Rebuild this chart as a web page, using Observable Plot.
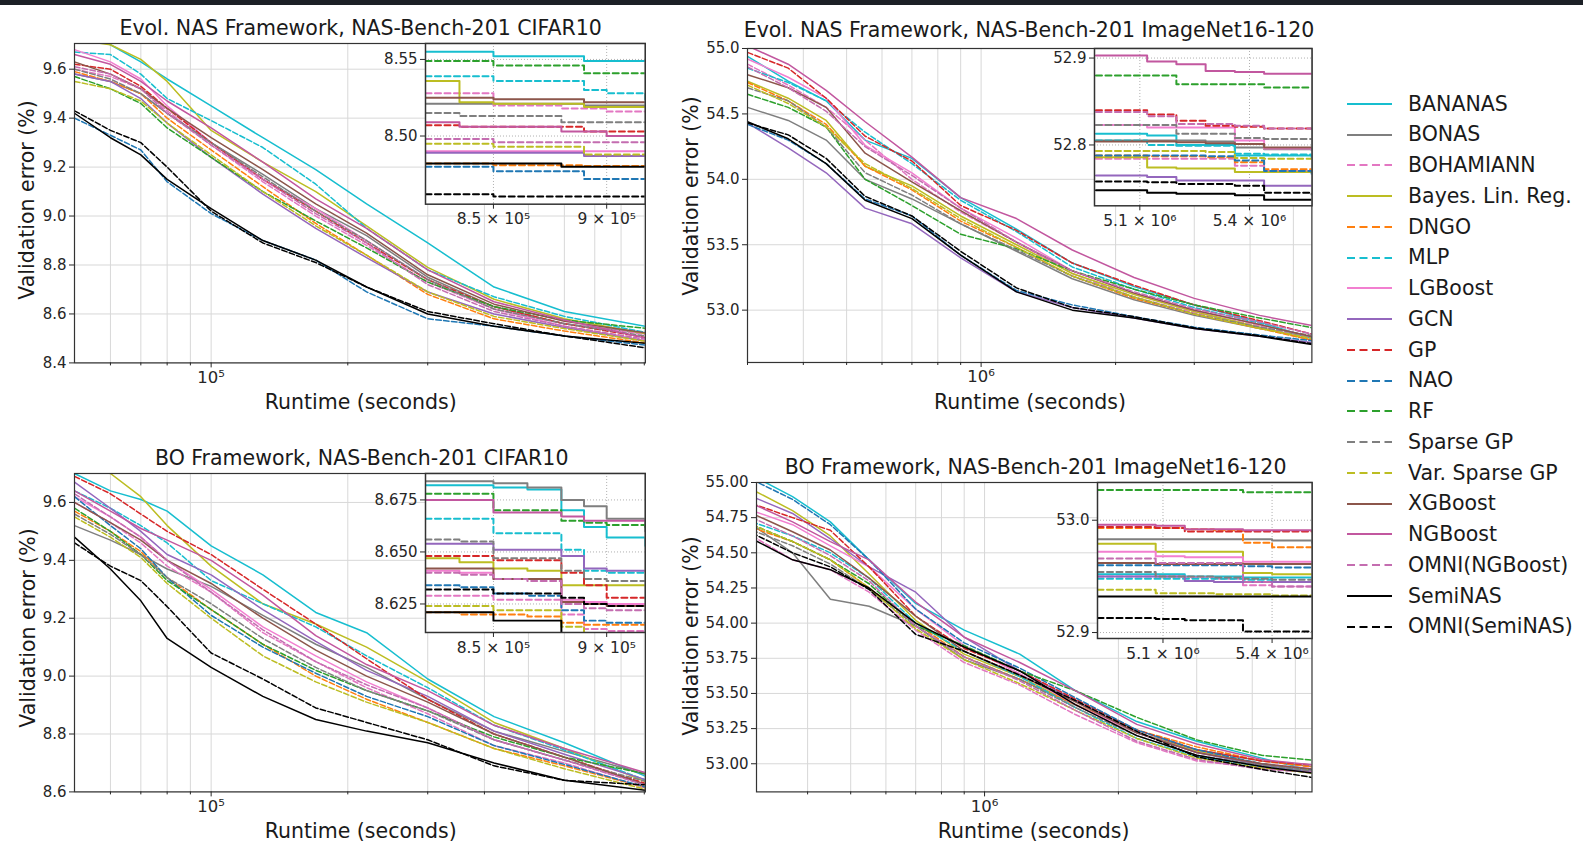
<!DOCTYPE html>
<html><head><meta charset="utf-8">
<script src="https://cdn.jsdelivr.net/npm/d3@7"></script>
<script src="https://cdn.jsdelivr.net/npm/@observablehq/plot@0.6"></script>
<style>
body{margin:0;background:#fff;}
#root{position:relative;width:1583px;height:843px;background:#fff;overflow:hidden;font-family:"DejaVu Sans",sans-serif;color:#1a1a1a;}
#topbar{position:absolute;left:0;top:0;width:1583px;height:5px;background:#1c2026;}
.t{position:absolute;font-size:20.5px;line-height:1;white-space:nowrap;transform:translate(-50%,-50%);}
.yl{position:absolute;font-size:20.5px;line-height:1;white-space:nowrap;transform:translate(-50%,-50%) rotate(-90deg);}
.lg{position:absolute;font-size:20.5px;line-height:1;white-space:nowrap;}
svg{overflow:visible;}
</style></head><body><div id="root"><div id="topbar"></div></div>
<script>
// ---------------- data ----------------
const methods = ["BANANAS","BONAS","BOHAMIANN","Bayes. Lin. Reg.","DNGO","MLP","LGBoost","GCN","GP","NAO","RF","Sparse GP","Var. Sparse GP","XGBoost","NGBoost","OMNI(NGBoost)","SemiNAS","OMNI(SemiNAS)"];
const colors = ["#17becf","#7f7f7f","#e377c2","#bcbd22","#ff7f0e","#17becf","#f27fd0","#9467bd","#d62728","#1f77b4","#2ca02c","#7f7f7f","#bcbd22","#8c564b","#c2579f","#c46db0","#000000","#000000"];
const dashed = [0,0,1,0,1,1,0,0,1,1,1,1,1,0,0,1,0,1];

const xCifar = [5e4, 6e4, 7e4, 8e4, 1e5, 1.3e5, 1.7e5, 2.2e5, 3e5, 4.2e5, 6e5, 9.1e5];
const xImagenet = [3e5, 3.7e5, 4.5e5, 5.5e5, 7e5, 9e5, 1.2e6, 1.6e6, 2.2e6, 3e6, 4.2e6, 5.5e6];
const xInsetCifar = [8.2e5, 8.35e5, 8.5e5, 8.65e5, 8.8e5, 8.9e5, 9.0e5, 9.17e5];
const xInsetImgEvol = [4.98e6, 5.05e6, 5.12e6, 5.2e6, 5.28e6, 5.36e6, 5.44e6, 5.57e6];
const xInsetImgBO = [4.92e6, 5.0e6, 5.08e6, 5.16e6, 5.24e6, 5.32e6, 5.4e6, 5.51e6];

const evolCifarErr = [
[9.76,9.70,9.63,9.56,9.45,9.32,9.19,9.05,8.89,8.71,8.61,8.549],
[9.58,9.55,9.50,9.42,9.30,9.17,9.03,8.92,8.75,8.63,8.56,8.520],
[9.60,9.57,9.52,9.43,9.29,9.14,9.00,8.88,8.73,8.62,8.56,8.516],
[9.72,9.70,9.64,9.55,9.35,9.22,9.10,8.96,8.79,8.66,8.58,8.519],
[9.59,9.55,9.50,9.40,9.27,9.12,8.97,8.84,8.68,8.58,8.53,8.481],
[9.67,9.66,9.58,9.48,9.39,9.28,9.13,8.95,8.78,8.67,8.59,8.524],
[9.68,9.63,9.56,9.45,9.30,9.15,9.03,8.90,8.74,8.62,8.55,8.490],
[9.58,9.55,9.48,9.38,9.24,9.09,8.95,8.83,8.69,8.60,8.545,8.488],
[9.62,9.60,9.53,9.44,9.30,9.15,9.02,8.89,8.74,8.63,8.56,8.503],
[9.40,9.33,9.27,9.14,9.01,8.90,8.82,8.69,8.58,8.55,8.51,8.472],
[9.57,9.52,9.46,9.36,9.24,9.10,8.98,8.87,8.73,8.63,8.575,8.541],
[9.60,9.56,9.50,9.42,9.30,9.16,9.02,8.90,8.74,8.62,8.56,8.509],
[9.55,9.52,9.47,9.38,9.25,9.10,8.96,8.84,8.69,8.59,8.54,8.488],
[9.63,9.58,9.52,9.44,9.32,9.19,9.05,8.93,8.76,8.64,8.57,8.522],
[9.66,9.62,9.55,9.47,9.36,9.22,9.07,8.95,8.78,8.65,8.575,8.500],
[9.61,9.58,9.52,9.42,9.29,9.15,9.01,8.89,8.72,8.61,8.55,8.496],
[9.42,9.32,9.25,9.15,9.03,8.90,8.82,8.71,8.60,8.55,8.51,8.480],
[9.43,9.35,9.30,9.20,9.02,8.89,8.81,8.71,8.61,8.56,8.51,8.461]];

const evolCifarInset = [
[8.555,8.555,8.552,8.552,8.552,8.549,8.549,8.549],
[8.521,8.521,8.521,8.521,8.521,8.520,8.520,8.520],
[8.528,8.528,8.520,8.520,8.518,8.518,8.516,8.516],
[8.536,8.522,8.521,8.521,8.521,8.519,8.519,8.519],
[8.482,8.482,8.481,8.481,8.481,8.4805,8.4805,8.4805],
[8.539,8.539,8.536,8.536,8.536,8.530,8.528,8.524],
[8.490,8.490,8.490,8.490,8.490,8.490,8.490,8.490],
[8.489,8.489,8.489,8.489,8.489,8.487,8.487,8.487],
[8.507,8.506,8.506,8.506,8.506,8.503,8.503,8.503],
[8.480,8.480,8.477,8.477,8.477,8.472,8.472,8.472],
[8.549,8.549,8.546,8.546,8.546,8.541,8.541,8.541],
[8.515,8.513,8.513,8.513,8.509,8.509,8.509,8.509],
[8.495,8.495,8.493,8.493,8.493,8.488,8.488,8.488],
[8.525,8.525,8.524,8.524,8.524,8.522,8.522,8.522],
[8.509,8.506,8.506,8.506,8.503,8.503,8.500,8.500],
[8.498,8.498,8.496,8.496,8.496,8.496,8.496,8.496],
[8.482,8.482,8.482,8.482,8.480,8.480,8.480,8.480],
[8.462,8.462,8.4605,8.4605,8.4605,8.4605,8.4605,8.4605]];

const evolImgErr = [
[54.94,54.75,54.60,54.30,54.16,53.86,53.62,53.36,53.18,53.04,52.91,52.786],
[54.55,54.45,54.30,54.00,53.85,53.66,53.45,53.24,53.08,52.96,52.86,52.794],
[54.88,54.72,54.55,54.30,54.00,53.75,53.52,53.28,53.10,52.98,52.88,52.770],
[54.75,54.62,54.45,54.10,53.95,53.72,53.50,53.28,53.12,52.99,52.87,52.769],
[54.74,54.60,54.42,54.10,53.92,53.68,53.48,53.26,53.09,52.97,52.86,52.771],
[54.85,54.74,54.60,54.36,54.12,53.84,53.60,53.33,53.16,53.02,52.90,52.788],
[54.92,54.78,54.62,54.26,54.05,53.78,53.55,53.30,53.13,53.00,52.89,52.795],
[54.43,54.24,54.05,53.78,53.66,53.40,53.14,53.02,52.94,52.86,52.80,52.753],
[54.97,54.85,54.62,54.33,54.14,53.80,53.61,53.36,53.19,53.04,52.92,52.817],
[54.42,54.30,54.12,53.85,53.72,53.42,53.15,53.04,52.95,52.87,52.81,52.767],
[54.65,54.55,54.40,54.00,53.80,53.58,53.47,53.30,53.16,53.04,52.94,52.866],
[54.70,54.60,54.40,54.05,53.88,53.66,53.46,53.26,53.10,52.97,52.87,52.807],
[54.72,54.58,54.40,54.12,53.93,53.70,53.48,53.26,53.10,52.97,52.86,52.784],
[54.80,54.70,54.55,54.20,53.98,53.76,53.52,53.30,53.13,53.00,52.89,52.797],
[55.02,54.88,54.68,54.44,54.17,53.86,53.70,53.46,53.25,53.09,52.96,52.882],
[54.86,54.70,54.52,54.25,54.03,53.78,53.52,53.30,53.14,53.01,52.91,52.818],
[54.44,54.31,54.12,53.84,53.70,53.42,53.14,53.00,52.94,52.86,52.80,52.737],
[54.43,54.34,54.16,53.87,53.72,53.45,53.17,53.02,52.95,52.865,52.805,52.743]];

const evolImgInset = [
[52.813,52.813,52.811,52.800,52.800,52.788,52.788,52.786],
[52.805,52.805,52.805,52.805,52.804,52.797,52.795,52.794],
[52.784,52.784,52.784,52.784,52.784,52.776,52.770,52.770],
[52.786,52.786,52.774,52.773,52.773,52.769,52.769,52.769],
[52.788,52.788,52.787,52.787,52.786,52.780,52.772,52.771],
[52.805,52.805,52.800,52.799,52.799,52.790,52.789,52.788],
[52.823,52.823,52.820,52.820,52.820,52.805,52.796,52.795],
[52.765,52.765,52.763,52.759,52.759,52.759,52.753,52.753],
[52.840,52.840,52.835,52.828,52.822,52.821,52.819,52.817],
[52.788,52.788,52.788,52.788,52.787,52.782,52.770,52.767],
[52.880,52.880,52.880,52.870,52.870,52.870,52.866,52.866],
[52.823,52.823,52.823,52.813,52.813,52.808,52.807,52.807],
[52.793,52.793,52.793,52.793,52.792,52.785,52.784,52.784],
[52.804,52.804,52.804,52.803,52.802,52.801,52.797,52.797],
[52.903,52.903,52.896,52.893,52.885,52.884,52.882,52.882],
[52.838,52.838,52.833,52.824,52.824,52.822,52.819,52.818],
[52.748,52.748,52.745,52.744,52.744,52.742,52.737,52.737],
[52.758,52.758,52.757,52.755,52.755,52.753,52.745,52.743]];

const boCifarErr = [
[9.70,9.64,9.61,9.57,9.45,9.35,9.22,9.15,8.99,8.86,8.77,8.653],
[9.52,9.47,9.42,9.37,9.31,9.21,9.11,9.03,8.92,8.81,8.74,8.660],
[9.60,9.53,9.46,9.38,9.29,9.15,9.05,8.96,8.87,8.76,8.70,8.612],
[9.72,9.70,9.62,9.52,9.38,9.25,9.18,9.10,8.98,8.84,8.75,8.634],
[9.57,9.50,9.43,9.34,9.23,9.11,9.00,8.92,8.84,8.75,8.69,8.615],
[9.64,9.58,9.52,9.46,9.33,9.25,9.17,9.07,8.96,8.83,8.745,8.640],
[9.62,9.55,9.48,9.40,9.30,9.17,9.07,8.98,8.89,8.78,8.71,8.625],
[9.67,9.58,9.50,9.42,9.35,9.23,9.12,9.02,8.93,8.81,8.73,8.641],
[9.69,9.63,9.56,9.50,9.42,9.30,9.18,9.06,8.92,8.80,8.72,8.628],
[9.62,9.52,9.44,9.34,9.21,9.10,9.01,8.93,8.86,8.76,8.695,8.616],
[9.58,9.50,9.42,9.33,9.23,9.11,9.02,8.95,8.88,8.79,8.72,8.662],
[9.56,9.49,9.42,9.34,9.25,9.13,9.03,8.95,8.88,8.78,8.71,8.636],
[9.55,9.48,9.41,9.32,9.20,9.07,8.98,8.91,8.84,8.75,8.68,8.608],
[9.60,9.53,9.47,9.40,9.32,9.20,9.09,9.00,8.91,8.80,8.72,8.624],
[9.64,9.57,9.51,9.47,9.40,9.28,9.14,9.04,8.95,8.83,8.75,8.665],
[9.63,9.55,9.48,9.40,9.29,9.16,9.05,8.97,8.89,8.78,8.71,8.622],
[9.48,9.37,9.26,9.13,9.03,8.93,8.85,8.81,8.77,8.70,8.64,8.605],
[9.46,9.38,9.33,9.24,9.08,8.99,8.89,8.84,8.78,8.69,8.64,8.624]];

const boCifarInset = [
[8.682,8.682,8.681,8.680,8.670,8.662,8.657,8.653],
[8.684,8.684,8.683,8.681,8.675,8.672,8.666,8.660],
[8.629,8.629,8.627,8.627,8.620,8.613,8.612,8.612],
[8.647,8.645,8.642,8.641,8.634,8.634,8.634,8.634],
[8.621,8.620,8.620,8.619,8.616,8.615,8.615,8.615],
[8.666,8.666,8.659,8.659,8.651,8.641,8.640,8.640],
[8.641,8.640,8.637,8.637,8.627,8.626,8.625,8.625],
[8.654,8.654,8.651,8.651,8.648,8.642,8.641,8.641],
[8.648,8.648,8.646,8.646,8.640,8.634,8.628,8.628],
[8.634,8.633,8.630,8.629,8.622,8.617,8.616,8.616],
[8.678,8.678,8.670,8.670,8.665,8.664,8.663,8.662],
[8.656,8.655,8.647,8.647,8.641,8.637,8.636,8.636],
[8.624,8.624,8.622,8.622,8.614,8.609,8.608,8.608],
[8.642,8.642,8.637,8.637,8.626,8.625,8.624,8.624],
[8.675,8.675,8.669,8.669,8.667,8.665,8.665,8.665],
[8.640,8.639,8.637,8.636,8.625,8.623,8.622,8.622],
[8.621,8.621,8.617,8.617,8.611,8.606,8.605,8.605],
[8.632,8.632,8.630,8.630,8.628,8.625,8.624,8.624]];

const boImgErr = [
[55.05,54.90,54.72,54.45,54.14,53.95,53.78,53.52,53.30,53.16,53.04,52.949],
[54.70,54.50,54.17,54.12,53.98,53.74,53.60,53.42,53.22,53.10,53.02,52.980],
[54.62,54.45,54.38,54.22,53.95,53.72,53.56,53.35,53.15,53.02,52.97,52.941],
[54.95,54.80,54.62,54.35,54.02,53.78,53.62,53.42,53.22,53.09,53.00,52.952],
[54.68,54.58,54.45,54.25,54.00,53.76,53.60,53.42,53.24,53.12,53.02,52.976],
[54.72,54.62,54.50,54.32,54.00,53.80,53.62,53.40,53.18,53.05,52.98,52.945],
[54.80,54.70,54.55,54.40,54.10,53.84,53.64,53.42,53.22,53.08,53.00,52.963],
[54.90,54.78,54.60,54.40,54.22,53.90,53.66,53.45,53.22,53.08,52.99,52.945],
[54.85,54.75,54.66,54.40,54.05,53.82,53.66,53.46,53.24,53.10,53.02,52.990],
[55.02,54.88,54.70,54.45,54.10,53.86,53.68,53.47,53.24,53.10,53.00,52.958],
[54.70,54.58,54.45,54.28,53.98,53.84,53.66,53.52,53.33,53.17,53.06,53.025],
[54.66,54.55,54.42,54.24,53.98,53.76,53.60,53.40,53.20,53.06,52.99,52.947],
[54.70,54.58,54.45,54.25,53.96,53.74,53.57,53.38,53.18,53.04,52.97,52.933],
[54.78,54.65,54.52,54.32,54.05,53.80,53.63,53.44,53.22,53.08,53.00,52.961],
[54.85,54.72,54.58,54.45,54.15,53.90,53.72,53.52,53.28,53.14,53.03,52.991],
[54.75,54.62,54.48,54.30,53.98,53.76,53.59,53.38,53.16,53.03,52.96,52.941],
[54.60,54.45,54.38,54.25,54.00,53.83,53.66,53.42,53.20,53.06,52.98,52.932],
[54.64,54.50,54.40,54.24,53.92,53.80,53.63,53.45,53.23,53.05,52.96,52.901]];

const boImgInset = [
[52.952,52.952,52.952,52.950,52.950,52.949,52.949,52.949],
[52.983,52.983,52.983,52.983,52.983,52.983,52.982,52.980],
[52.950,52.950,52.950,52.949,52.948,52.942,52.941,52.941],
[52.979,52.979,52.972,52.972,52.972,52.953,52.952,52.952],
[52.993,52.993,52.993,52.992,52.991,52.980,52.976,52.976],
[52.948,52.948,52.948,52.948,52.948,52.947,52.945,52.945],
[52.972,52.972,52.968,52.967,52.967,52.963,52.963,52.963],
[52.950,52.950,52.950,52.946,52.945,52.945,52.945,52.945],
[52.994,52.994,52.993,52.990,52.990,52.990,52.990,52.990],
[52.960,52.960,52.960,52.960,52.960,52.959,52.958,52.958],
[53.027,53.027,53.027,53.027,53.027,53.025,53.025,53.025],
[52.954,52.954,52.950,52.950,52.949,52.948,52.947,52.947],
[52.938,52.938,52.935,52.935,52.934,52.934,52.933,52.933],
[52.962,52.962,52.961,52.961,52.961,52.961,52.961,52.961],
[52.996,52.996,52.995,52.992,52.992,52.991,52.991,52.991],
[52.966,52.966,52.962,52.962,52.962,52.945,52.941,52.941],
[52.932,52.932,52.932,52.932,52.932,52.932,52.932,52.932],
[52.913,52.913,52.912,52.911,52.911,52.901,52.901,52.901]];

// tick values and labels
const yTicksEvolCifar = [8.4, 8.6, 8.8, 9.0, 9.2, 9.4, 9.6];
const yTicksBoCifar = [8.6, 8.8, 9.0, 9.2, 9.4, 9.6];
const yTicksEvolImg = [53.0, 53.5, 54.0, 54.5, 55.0];
const yTicksBoImg = [53.00, 53.25, 53.50, 53.75, 54.00, 54.25, 54.50, 54.75, 55.00];
const xMajorCifar = [1e5], xMajorCifarLabel = ["10⁵"];
const xMajorImg = [1e6], xMajorImgLabel = ["10⁶"];
const xMinorCifar = [6e4,7e4,8e4,9e4,2e5,3e5,4e5,5e5,6e5,7e5,8e5,9e5];
const xMinorImg = [3e5,4e5,5e5,6e5,7e5,8e5,9e5,2e6,3e6,4e6,5e6];
const insetYTicksEvolCifar = [8.50, 8.55];
const insetYTicksBoCifar = [8.625, 8.650, 8.675];
const insetYTicksEvolImg = [52.8, 52.9];
const insetYTicksBoImg = [52.9, 53.0];
const insetXTicksCifar = [8.5e5, 9e5], insetXLabelsCifar = ["8.5 × 10⁵", "9 × 10⁵"];
const insetXTicksImg = [5.1e6, 5.4e6], insetXLabelsImg = ["5.1 × 10⁶", "5.4 × 10⁶"];

// ---------------- layout ----------------
const root = document.getElementById("root");
const panels = [
  {title:"Evol. NAS Framework, NAS-Bench-201 CIFAR10", frame:[73.8,43.3,644.7,362.7], xDomain:[5e4,9.05e5], yDomain:[8.4,9.705],
   xs:xCifar, data:evolCifarErr, yTicks:yTicksEvolCifar, yDec:1, xMajor:xMajorCifar, xMajorLabel:xMajorCifarLabel, xMinor:xMinorCifar,
   titlePos:[360.7,28.3], xlabPos:[360.7,402], ylabPos:[27,200],
   inset:{frame:[425,43.3,644.7,204], xDomain:[8.2e5,9.17e5], yDomain:[8.4555,8.5604], xs:xInsetCifar, data:evolCifarInset,
          yTicks:insetYTicksEvolCifar, yDec:2, xTicks:insetXTicksCifar, xLabels:insetXLabelsCifar}},
  {title:"Evol. NAS Framework, NAS-Bench-201 ImageNet16-120", frame:[747.1,47.7,1311.5,361.7], xDomain:[3e5,5.5e6], yDomain:[52.6,55.0],
   xs:xImagenet, data:evolImgErr, yTicks:yTicksEvolImg, yDec:1, xMajor:xMajorImg, xMajorLabel:xMajorImgLabel, xMinor:xMinorImg,
   titlePos:[1029,30], xlabPos:[1030,402], ylabPos:[691,196],
   inset:{frame:[1094,47.7,1311.5,205], xDomain:[4.976e6,5.571e6], yDomain:[52.730,52.911], xs:xInsetImgEvol, data:evolImgInset,
          yTicks:insetYTicksEvolImg, yDec:1, xTicks:insetXTicksImg, xLabels:insetXLabelsImg}},
  {title:"BO Framework, NAS-Bench-201 CIFAR10", frame:[73.8,473.3,644.7,791.7], xDomain:[5e4,9.05e5], yDomain:[8.6,9.7],
   xs:xCifar, data:boCifarErr, yTicks:yTicksBoCifar, yDec:1, xMajor:xMajorCifar, xMajorLabel:xMajorCifarLabel, xMinor:xMinorCifar,
   titlePos:[361.7,458.3], xlabPos:[360.7,831], ylabPos:[28,628],
   inset:{frame:[425,473.3,644.7,632.3], xDomain:[8.2e5,9.17e5], yDomain:[8.6113,8.6877], xs:xInsetCifar, data:boCifarInset,
          yTicks:insetYTicksBoCifar, yDec:3, xTicks:insetXTicksCifar, xLabels:insetXLabelsCifar}},
  {title:"BO Framework, NAS-Bench-201 ImageNet16-120", frame:[756,482.3,1311.5,791.7], xDomain:[3.07e5,5.45e6], yDomain:[52.8,55.0],
   xs:xImagenet, data:boImgErr, yTicks:yTicksBoImg, yDec:2, xMajor:xMajorImg, xMajorLabel:xMajorImgLabel, xMinor:xMinorImg.filter(d=>d>3.07e5),
   titlePos:[1035.6,467.3], xlabPos:[1033.6,831], ylabPos:[691,636],
   inset:{frame:[1096.9,482.3,1311.5,638.3], xDomain:[4.92e6,5.51e6], yDomain:[52.8947,53.0336], xs:xInsetImgBO, data:boImgInset,
          yTicks:insetYTicksBoImg, yDec:1, xTicks:insetXTicksImg, xLabels:insetXLabelsImg}}
];

function place(svg, left, top) {
  svg.style.position = "absolute";
  svg.style.left = left + "px";
  svg.style.top = top + "px";
  svg.style.maxWidth = "none";
  root.appendChild(svg);
}
function seriesRows(xs, vals) { return xs.map((x, j) => ({x, y: vals[j]})); }
function labelLookup(ticks, labels) {
  return d => {
    const k = ticks.findIndex(t => Math.abs(t - d) < 1e-6 * Math.abs(t));
    return k < 0 ? "" : labels[k];
  };
}

function mainPlot(p) {
  const [l, t, r, b] = p.frame;
  const mL = 60, mR = 12, mT = 10, mB = 45;
  const marks = [
    Plot.gridY(p.yTicks, {stroke: "#d8d8d8", strokeOpacity: 1, strokeWidth: 1}),
    Plot.gridX([...p.xMajor, ...p.xMinor], {stroke: "#d8d8d8", strokeOpacity: 1, strokeWidth: 1}),
    ...methods.map((m, i) => Plot.line(seriesRows(p.xs, p.data[i]), {
      x: "x", y: "y", stroke: colors[i], strokeWidth: 1.5,
      strokeDasharray: dashed[i] ? "5.5,2.4" : null, clip: true})),
    Plot.frame({stroke: "#333", strokeWidth: 1.2}),
    Plot.axisY(p.yTicks, {anchor: "left", tickFormat: d => d.toFixed(p.yDec), tickSize: 5, tickPadding: 3, fontSize: 15, label: null}),
    Plot.axisX(p.xMinor, {anchor: "bottom", tickFormat: () => "", tickSize: 3, label: null}),
    Plot.axisX(p.xMajor, {anchor: "bottom", tickFormat: labelLookup(p.xMajor, p.xMajorLabel), tickSize: 5, tickPadding: 3, fontSize: 16.5, label: null})
  ];
  const svg = Plot.plot({
    width: (r - l) + mL + mR, height: (b - t) + mT + mB,
    marginLeft: mL, marginRight: mR, marginTop: mT, marginBottom: mB,
    x: {type: "log", domain: p.xDomain, label: null},
    y: {domain: p.yDomain, label: null},
    style: {background: "transparent", fontFamily: "DejaVu Sans", fontSize: "15px", color: "#262626", overflow: "visible"},
    marks
  });
  place(svg, l - mL, t - mT);
}

function insetPlot(q) {
  const [l, t, r, b] = q.frame;
  const mL = 60, mR = 5, mT = 5, mB = 35;
  const marks = [
    Plot.frame({fill: "white"}),
    Plot.gridY(q.yTicks, {stroke: "#9a9a9a", strokeOpacity: 1, strokeWidth: 0.8, strokeDasharray: "1,2"}),
    Plot.gridX(q.xTicks, {stroke: "#9a9a9a", strokeOpacity: 1, strokeWidth: 0.8, strokeDasharray: "1,2"}),
    ...methods.map((m, i) => Plot.line(seriesRows(q.xs, q.data[i]), {
      x: "x", y: "y", stroke: colors[i], strokeWidth: 2, curve: "step-after",
      strokeDasharray: dashed[i] ? "6,3.5" : null, clip: true})),
    Plot.frame({stroke: "#333", strokeWidth: 1.5}),
    Plot.axisY(q.yTicks, {anchor: "left", tickFormat: d => d.toFixed(q.yDec), tickSize: 5, tickPadding: 3, fontSize: 15, label: null}),
    Plot.axisX(q.xTicks, {anchor: "bottom", tickFormat: labelLookup(q.xTicks, q.xLabels), tickSize: 5, tickPadding: 4, fontSize: 15.5, label: null})
  ];
  const svg = Plot.plot({
    width: (r - l) + mL + mR, height: (b - t) + mT + mB,
    marginLeft: mL, marginRight: mR, marginTop: mT, marginBottom: mB,
    x: {type: "linear", domain: q.xDomain, label: null},
    y: {domain: q.yDomain, label: null},
    style: {background: "transparent", fontFamily: "DejaVu Sans", fontSize: "15px", color: "#262626", overflow: "visible"},
    marks
  });
  place(svg, l - mL, t - mT);
}

function addText(cls, txt, x, y) {
  const d = document.createElement("div");
  d.className = cls; d.textContent = txt;
  d.style.left = x + "px"; d.style.top = y + "px";
  root.appendChild(d);
}

for (const p of panels) {
  mainPlot(p);
  insetPlot(p.inset);
  addText("t", p.title, p.titlePos[0], p.titlePos[1]);
  addText("t", "Runtime (seconds)", p.xlabPos[0], p.xlabPos[1]);
  addText("yl", "Validation error (%)", p.ylabPos[0], p.ylabPos[1]);
}

// legend
methods.forEach((m, i) => {
  const cy = 104 + i * 30.74;
  const row = document.createElement("div");
  row.className = "lg";
  row.style.left = "1346px"; row.style.top = (cy - 11) + "px";
  row.style.display = "flex"; row.style.alignItems = "center";
  const ns = "http://www.w3.org/2000/svg";
  const s = document.createElementNS(ns, "svg");
  s.setAttribute("width", "46"); s.setAttribute("height", "22");
  const ln = document.createElementNS(ns, "line");
  ln.setAttribute("x1", "1"); ln.setAttribute("x2", "46"); ln.setAttribute("y1", "11"); ln.setAttribute("y2", "11");
  ln.setAttribute("stroke", colors[i]); ln.setAttribute("stroke-width", "2.2");
  if (dashed[i]) ln.setAttribute("stroke-dasharray", "8,4.5");
  s.appendChild(ln);
  const sp = document.createElement("span");
  sp.textContent = m; sp.style.marginLeft = "16px";
  row.appendChild(s); row.appendChild(sp);
  root.appendChild(row);
});
</script>
</body></html>
